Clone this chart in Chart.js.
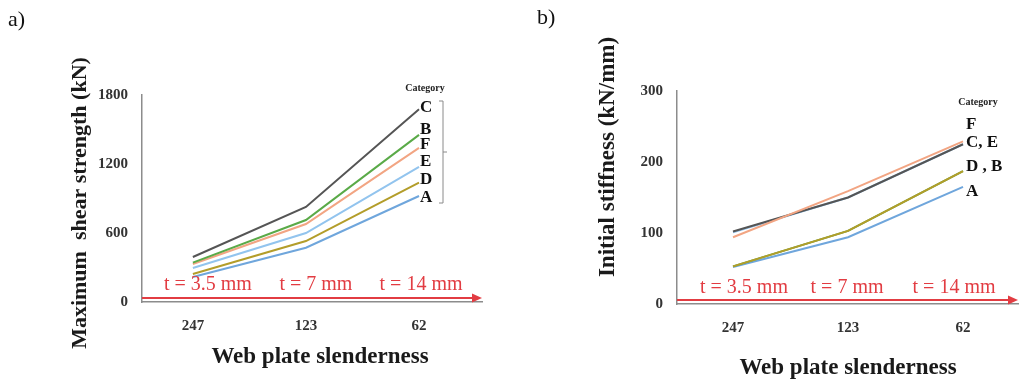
<!DOCTYPE html>
<html><head><meta charset="utf-8">
<script src="https://cdn.jsdelivr.net/npm/chart.js@4.4.1/dist/chart.umd.min.js"></script>
<style>
html,body{margin:0;padding:0;background:#fff;width:1020px;height:382px;overflow:hidden}
.box{position:absolute;top:0;width:510px;height:382px}
canvas{display:block}
</style></head><body>
<div class="box" style="left:0"><canvas id="ca" width="510" height="382"></canvas></div>
<div class="box" style="left:510px"><canvas id="cb" width="510" height="382"></canvas></div>
<script>
// ---- data ----
const slenderness = ['247', '123', '62'];
const thickness = ['t = 3.5 mm', 't = 7 mm', 't = 14 mm'];
const categoryNames = ['A', 'B', 'C', 'D', 'E', 'F'];
const shearA = [217, 472, 922];
const shearB = [342, 713, 1453];
const shearC = [391, 826, 1676];
const shearD = [243, 530, 1038];
const shearE = [296, 600, 1175];
const shearF = [330, 678, 1340];
const stiffA = [52, 94, 165];
const stiffB = [53, 103, 187];
const stiffC = [102, 150, 225];
const stiffD = [53, 103, 187];
const stiffE = [101, 150, 225];
const stiffF = [94, 159, 229];
const shearTicks = [0, 600, 1200, 1800];
const stiffTicks = [0, 100, 200, 300];
const shearEndLabels = ['C', 'B', 'F', 'E', 'D', 'A'];
const stiffEndLabels = ['F', 'C, E', 'D , B', 'A'];

const colors = {A:'#6fa6dc', B:'#5aaa48', C:'#555555', D:'#b39d2a', E:'#92c4ee', F:'#f2a583'};
const SERIF = '"Liberation Serif", "DejaVu Serif", serif';

function ds(name, values, order) {
  return {
    label: name,
    data: values.map((v, i) => ({x: i, y: v})),
    borderColor: colors[name],
    backgroundColor: colors[name],
    borderWidth: 2,
    pointRadius: 0,
    tension: 0,
    order: order
  };
}

const deco = {
  id: 'deco',
  afterDraw(chart, args, o) {
    const ctx = chart.ctx;
    const ca = chart.chartArea;
    const xs = chart.scales.x;
    ctx.save();
    // panel letter
    ctx.fillStyle = '#111';
    ctx.font = '22px ' + SERIF;
    ctx.textBaseline = 'middle';
    ctx.textAlign = 'left';
    ctx.fillText(o.panel, o.panelX, o.panelY);
    // y title
    ctx.save();
    ctx.translate(o.yTitleX, o.yTitleY);
    ctx.rotate(-Math.PI / 2);
    ctx.textAlign = 'center';
    ctx.font = 'bold ' + o.yTitleSize + 'px ' + SERIF;
    ctx.fillStyle = '#1a1a1a';
    ctx.fillText(o.yTitle, 0, 0);
    ctx.restore();
    // x title
    ctx.textAlign = 'center';
    ctx.font = 'bold 23px ' + SERIF;
    ctx.fillStyle = '#1a1a1a';
    ctx.fillText(o.xTitle, o.xTitleX, o.xTitleY);
    // red arrow
    ctx.strokeStyle = '#e23c42';
    ctx.fillStyle = '#e23c42';
    ctx.lineWidth = 2;
    ctx.beginPath();
    ctx.moveTo(ca.left, o.arrowY);
    ctx.lineTo(ca.right - 8, o.arrowY);
    ctx.stroke();
    ctx.beginPath();
    ctx.moveTo(ca.right, o.arrowY);
    ctx.lineTo(ca.right - 10, o.arrowY - 4.5);
    ctx.lineTo(ca.right - 10, o.arrowY + 4.5);
    ctx.closePath();
    ctx.fill();
    // thickness labels
    ctx.font = '20px ' + SERIF;
    ctx.textAlign = 'center';
    thickness.forEach((t, i) => {
      ctx.fillText(t, xs.getPixelForValue(i) + o.tOffsets[i], o.tY);
    });
    // Category heading
    ctx.fillStyle = '#222';
    ctx.font = 'bold 10px ' + SERIF;
    ctx.fillText('Category', o.catX, o.catY);
    // end labels
    ctx.font = 'bold 17px ' + SERIF;
    ctx.fillStyle = '#111';
    ctx.textAlign = 'left';
    o.endLabels.forEach((l, i) => ctx.fillText(l, o.labX, o.labY[i]));
    // bracket
    if (o.bracket) {
      const b = o.bracket;
      ctx.strokeStyle = '#8a8a8a';
      ctx.lineWidth = 1;
      ctx.beginPath();
      ctx.moveTo(b.x - 4, b.top); ctx.lineTo(b.x, b.top); ctx.lineTo(b.x, b.bottom); ctx.lineTo(b.x - 4, b.bottom);
      ctx.moveTo(b.x, (b.top + b.bottom) / 2); ctx.lineTo(b.x + 4, (b.top + b.bottom) / 2);
      ctx.stroke();
    }
    ctx.restore();
  }
};

function makeChart(id, cfg) {
  return new Chart(document.getElementById(id), {
    type: 'line',
    data: {datasets: cfg.datasets},
    options: {
      responsive: false,
      animation: false,
      devicePixelRatio: 1,
      layout: {padding: {top: cfg.top, right: cfg.right, left: 0, bottom: 0}},
      plugins: {legend: {display: false}, tooltip: {enabled: false}, deco: cfg.deco},
      scales: {
        x: {
          type: 'linear', min: cfg.xmin, max: cfg.xmax,
          afterBuildTicks: s => { s.ticks = slenderness.map((_, i) => ({value: i})); },
          afterFit: s => { s.height = cfg.xh; },
          grid: {display: false, drawTicks: false},
          border: {display: true, color: '#8c8c8c', width: 1.5},
          ticks: {padding: 15, color: '#333', font: {family: SERIF, size: 15, weight: 'bold'},
                  callback: v => slenderness[v] ?? ''}
        },
        y: {
          min: cfg.ymin, max: cfg.ymax,
          afterBuildTicks: s => { s.ticks = cfg.yticks.map(v => ({value: v})); },
          afterFit: s => { s.width = cfg.yw; },
          grid: {display: false, drawTicks: false},
          border: {display: true, color: '#8c8c8c', width: 1.5},
          ticks: {padding: 14, color: '#333', font: {family: SERIF, size: 15, weight: 'bold'},
                  callback: v => String(v)}
        }
      }
    },
    plugins: [deco]
  });
}

makeChart('ca', {
  top: 95, right: 28, xh: 80, yw: 142, xmin: -0.45, xmax: 2.557, ymin: 0, ymax: 1800, yticks: shearTicks,
  datasets: [ds('C', shearC, 0), ds('B', shearB, 1), ds('F', shearF, 2), ds('E', shearE, 3), ds('D', shearD, 4), ds('A', shearA, 5)],
  deco: {
    panel: 'a)', panelX: 8, panelY: 20,
    yTitle: 'Maximum  shear strength (kN)', yTitleSize: 22, yTitleX: 80, yTitleY: 203,
    xTitle: 'Web plate slenderness', xTitleX: 320, xTitleY: 357,
    arrowY: 298, tY: 285, tOffsets: [15, 10, 2],
    catX: 425, catY: 88, endLabels: shearEndLabels, labX: 420, labY: [108, 130, 145, 162, 180, 198],
    bracket: {x: 443, top: 101, bottom: 203}
  }
});

makeChart('cb', {
  top: 91, right: 2, xh: 78, yw: 167, xmin: -0.487, xmax: 2.478, ymin: 0, ymax: 300, yticks: stiffTicks,
  datasets: [ds('F', stiffF, 0), ds('C', stiffC, 1), ds('E', stiffE, 2), ds('D', stiffD, 3), ds('B', stiffB, 4), ds('A', stiffA, 5)],
  deco: {
    panel: 'b)', panelX: 27, panelY: 18,
    yTitle: 'Initial stiffness (kN/mm)', yTitleSize: 23, yTitleX: 98, yTitleY: 157,
    xTitle: 'Web plate slenderness', xTitleX: 338, xTitleY: 368,
    arrowY: 300, tY: 288, tOffsets: [11, -1, -9],
    catX: 468, catY: 102, endLabels: stiffEndLabels, labX: 456, labY: [125, 143, 167, 192],
    bracket: null
  }
});
</script>
</body></html>
